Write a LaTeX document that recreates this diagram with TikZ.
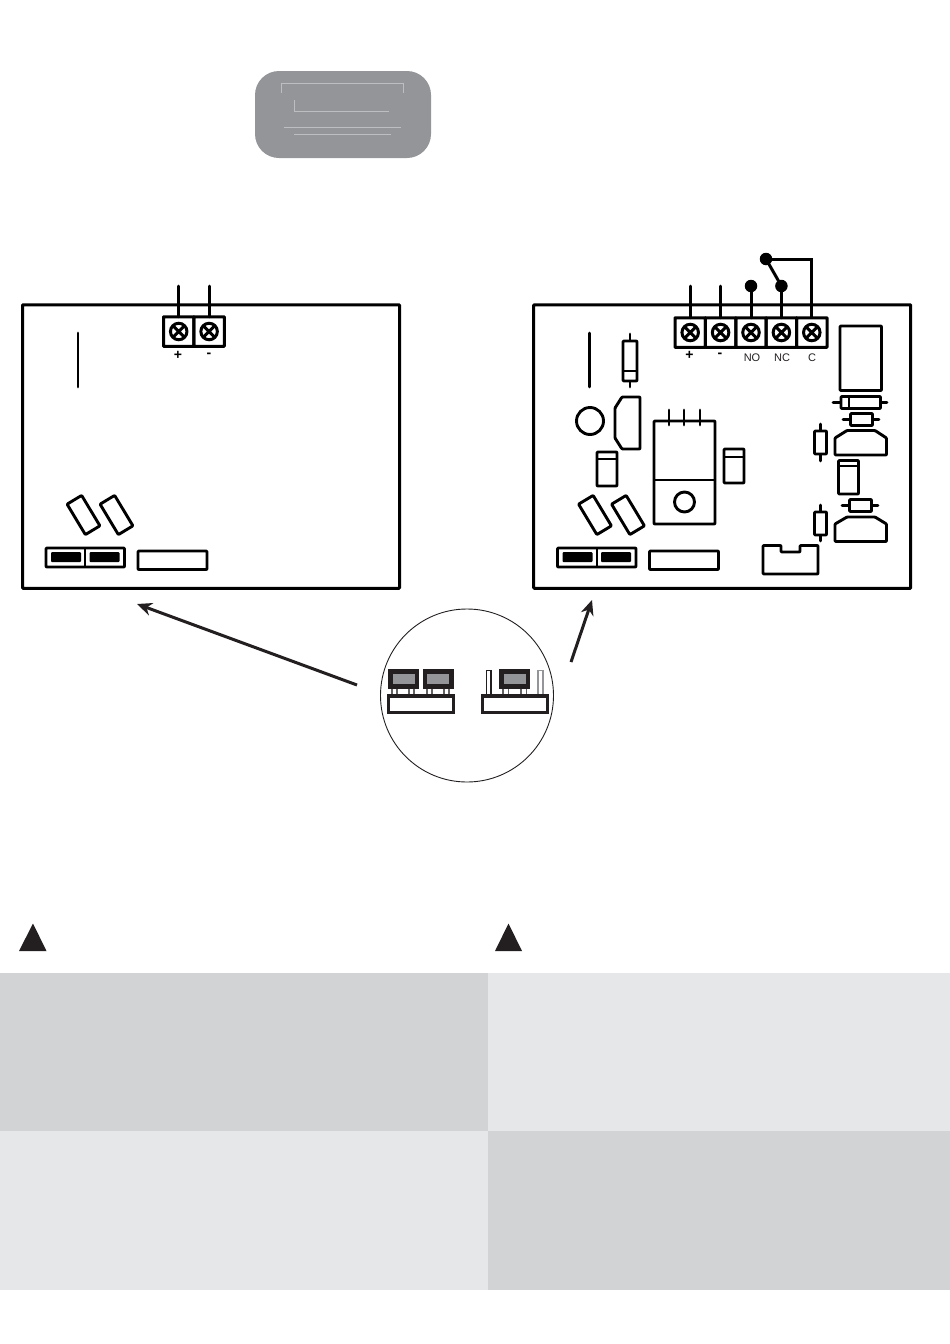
\documentclass[tikz,border=0pt]{standalone}
\usepackage{fontspec}
\setmainfont{Liberation Sans}
\usepackage{xcolor}
\usetikzlibrary{arrows.meta,positioning}
\definecolor{pcblack}{RGB}{35,31,32}
\definecolor{pcgrey}{RGB}{147,149,152}
\definecolor{pcmid}{RGB}{188,190,192}
\definecolor{pcpanel}{RGB}{209,211,212}
\definecolor{pcpale}{RGB}{230,231,232}
\tikzstyle{board} = [draw=black, line width=3pt, minimum width=377pt, minimum height=283.5pt, outer sep=0pt, rounded corners=0.8pt]
\tikzstyle{part} = [draw=black, line width=2.9pt, line join=round, rounded corners=0.8pt]
\tikzstyle{lead} = [draw=black, line width=2.9pt, line cap=round]
\tikzstyle{cell} = [draw=black, line width=3pt, minimum width=30.4pt, minimum height=29.5pt, outer sep=0pt, rounded corners=0.6pt]
\tikzstyle{wire} = [draw=black, line width=3pt, line cap=round]
\tikzstyle{screw} = [circle, draw=black, line width=3pt, minimum size=16.5pt, inner sep=0pt, outer sep=0pt, path picture={
  \draw[black, line width=3pt] (path picture bounding box.north west) -- (path picture bounding box.south east)
    (path picture bounding box.north east) -- (path picture bounding box.south west);}]
\tikzstyle{solder} = [circle, fill=black, minimum size=12.5pt, inner sep=0pt, outer sep=0pt]
\tikzstyle{tilted} = [part, rotate=-59, minimum width=35.5pt, minimum height=17pt, inner sep=0pt]
\tikzstyle{termlabel} = [font=\fontsize{11}{11}\selectfont, text=pcblack, inner sep=0pt]
\tikzstyle{signlabel} = [font=\bfseries\fontsize{14}{14}\selectfont, text=black, inner sep=0pt]
\tikzstyle{pointer} = [draw=pcblack, line width=3pt, -{Stealth[length=15pt,width=13pt]}]
\tikzstyle{warn} = [fill=pcblack]
\tikzstyle{badgeline} = [draw=pcmid, line width=0.8pt]
\tikzstyle{capblack} = [fill=pcblack, draw=pcblack, line width=0.4pt]
\tikzstyle{capgrey} = [fill=pcgrey, draw=none]
\tikzstyle{pinbase} = [draw=pcblack, fill=white, line width=3.2pt]
\tikzstyle{pin} = [draw=pcgrey, fill=white, line width=1.2pt]
\begin{document}
\begin{tikzpicture}[x=1pt, y=-1pt]
\useasboundingbox (0,0) rectangle (950,1344);

% Badge
\fill[pcgrey, rounded corners=24pt] (255,71) rectangle (431,158);
\draw[badgeline] (281,93) -- (281,83) -- (403,83) -- (403,93);
\draw[badgeline] (294,100) -- (294,111) -- (389,111);
\draw[badgeline] (284,127) -- (401,127);
\draw[badgeline] (294,134) -- (391,134);

% Boards
\node[board] (boardl) at (211,446.5) {};
\node[board] (boardr) at (722.2,446.5) {};

% Parts on both boards
\foreach \bx/\bn in {0/l,511.5/r} {
\begin{scope}[xshift=\bx pt]
\draw[lead] (78,333) -- (78,387);
\node[tilted] (tilta\bn) at (83.5,515) {};
\node[tilted] (tiltb\bn) at (116.5,515) {};
\draw[part] (46,548) rectangle (124.5,567);
\draw[part, line width=2pt] (85,548) -- (85,567);
\fill[black, rounded corners=1pt] (51,552) rectangle (81,562);
\fill[black, rounded corners=1pt] (89.5,552) rectangle (119.5,562);
\draw[part] (138,551) rectangle (207,569.5);
\end{scope}
}

% Left terminal
\node[cell] (cellla) at (178.7,331.5) {};
\node[cell, right=0pt of cellla] (celllb) {};
\node[screw] at (cellla.center) (screwla) {};
\node[screw] at (celllb.center) (screwlb) {};
\coordinate (wirela) at (cellla.north |- 0,286);
\coordinate (wirelb) at (celllb.north |- 0,286);
\draw[wire] (cellla.north) -- (wirela);
\draw[wire] (celllb.north) -- (wirelb);
\node[signlabel] at (178,355) (plusl) {+};
\node[signlabel] at (209,355) (minusl) {-};

% Right terminal
\node[cell] (cellra) at (690.2,332.5) {};
\node[cell, right=0pt of cellra] (cellrb) {};
\node[cell, right=0pt of cellrb] (cellrc) {};
\node[cell, right=0pt of cellrc] (cellrd) {};
\node[cell, right=0pt of cellrd] (cellre) {};
\foreach \tn in {a,b,c,d,e} \node[screw] at (cellr\tn.center) (screwr\tn) {};
\coordinate (wirera) at (cellra.north |- 0,286);
\coordinate (wirerb) at (cellrb.north |- 0,286);
\node[solder] at (cellrc.north |- 0,286) (dotno) {};
\node[solder] at (cellrd.north |- 0,286) (dotnc) {};
\node[solder] at (766,259) (dottop) {};
\draw[wire] (cellra.north) -- (wirera);
\draw[wire] (cellrb.north) -- (wirerb);
\draw[wire] (cellrc.north) -- (dotno);
\draw[wire] (cellrd.north) -- (dotnc);
\draw[wire] (dottop) -- (dotnc);
\draw[wire, line cap=butt] (dottop) -| (cellre.north);
\node[signlabel] at (689.5,355.5) (plusr) {+};
\node[signlabel] at (720,355.5) (minusr) {-};
\node[termlabel] at (752,358) (lblno) {NO};
\node[termlabel] at (782,358) (lblnc) {NC};
\node[termlabel] at (812,358) (lblc) {C};

% Right board components
\draw[lead] (630,334) -- (630,387);
\draw[part, fill=white] (623,341) rectangle (637,381);
\draw[part] (623,371) -- (637,371);
\node[circle, draw=black, line width=2.9pt, minimum size=27pt, inner sep=0pt] (ringa) at (590,421) {};
\draw[part] (622,397) -- (640,397) -- (640,449) -- (622,449) -- (615,438) -- (615,408) -- cycle;
\draw[lead] (669,410) -- (669,425) (684,410) -- (684,425) (700,410) -- (700,425);
\draw[part] (654,421) rectangle (715,524);
\draw[part] (654,480) -- (715,480);
\node[circle, draw=black, line width=2.9pt, minimum size=20pt, inner sep=0pt] (ringb) at (684.5,502) {};
\draw[part] (597,452) rectangle (617,486);
\draw[part] (597,459) -- (617,459);
\draw[part] (724,449) rectangle (744,483);
\draw[part] (724,457) -- (744,457);
\draw[part] (840,326) rectangle (881.5,390.5);
\draw[lead] (833,402.5) -- (887,402.5);
\draw[part, fill=white] (841,396.5) rectangle (880.5,408.5);
\draw[part] (849,396.5) -- (849,408.5);
\draw[lead] (843,419.5) -- (879,419.5);
\draw[part, fill=white] (850.5,413.5) rectangle (872.5,425.5);
\draw[part] (835,455) -- (835,438) -- (847,430.5) -- (875,430.5) -- (886.5,438) -- (886.5,455) -- cycle;
\draw[lead] (820.5,424) -- (820.5,461);
\draw[part, fill=white] (814.5,431) rectangle (826.5,454);
\draw[part] (838.5,460.5) rectangle (858.5,494);
\draw[part] (838.5,466) -- (858.5,466);
\draw[lead] (842,505.5) -- (878,505.5);
\draw[part, fill=white] (849.5,499.5) rectangle (871.5,511.5);
\draw[part] (835,541.5) -- (835,524) -- (847,517) -- (875,517) -- (886.5,524) -- (886.5,541.5) -- cycle;
\draw[lead] (820.5,505) -- (820.5,541);
\draw[part, fill=white] (814.5,512) rectangle (826.5,535);
\draw[part] (763,545.5) -- (781,545.5) -- (781,552) -- (800,552) -- (800,545.5) -- (818,545.5) -- (818,574) -- (763,574) -- cycle;

% Jumper detail
\node[circle, draw=pcblack, line width=0.9pt, minimum size=173pt, inner sep=0pt, outer sep=0pt] (detail) at (467,695.5) {};
\foreach \px in {392,409,427,444} \draw[pin, draw=pcblack!70] (\px,688) rectangle (\px+5,695);
\foreach \px in {503,521} \draw[pin, draw=pcblack!70] (\px,688) rectangle (\px+5.5,695);
\draw[pin, draw=pcblack] (486.5,670.5) rectangle (491,695);
\draw[pin] (538,670.5) rectangle (543,695);
\draw[pinbase] (388.5,696) rectangle (453.5,712.5);
\draw[pinbase] (482.5,696) rectangle (547.5,712.5);
\foreach \cx/\gx in {388/392.5,423/427,499/503.5} {
\fill[capblack] (\cx,669) rectangle (\cx+30,688);
\fill[capgrey] (\gx,674) rectangle (\gx+22,684);
}

% Arrows
\coordinate (pointera) at (357,685);
\coordinate (pointerb) at (571,662);
\coordinate (targeta) at (137,604);
\coordinate (targetb) at (592,600);
\draw[pointer] (pointera) -- (targeta);
\draw[pointer] (pointerb) -- (targetb);

% Warning triangles
\fill[warn] (19,951) -- (33,923.5) -- (46.5,951) -- cycle;
\fill[warn] (495,951) -- (508.5,923.5) -- (522,951) -- cycle;

% Panels
\fill[pcpanel] (0,973) rectangle (488,1130.7);
\fill[pcpale] (488,973) rectangle (950,1130.7);
\fill[pcpale] (0,1131.3) rectangle (488,1290);
\fill[pcpanel] (488,1131.3) rectangle (950,1290);
\end{tikzpicture}
\end{document}
